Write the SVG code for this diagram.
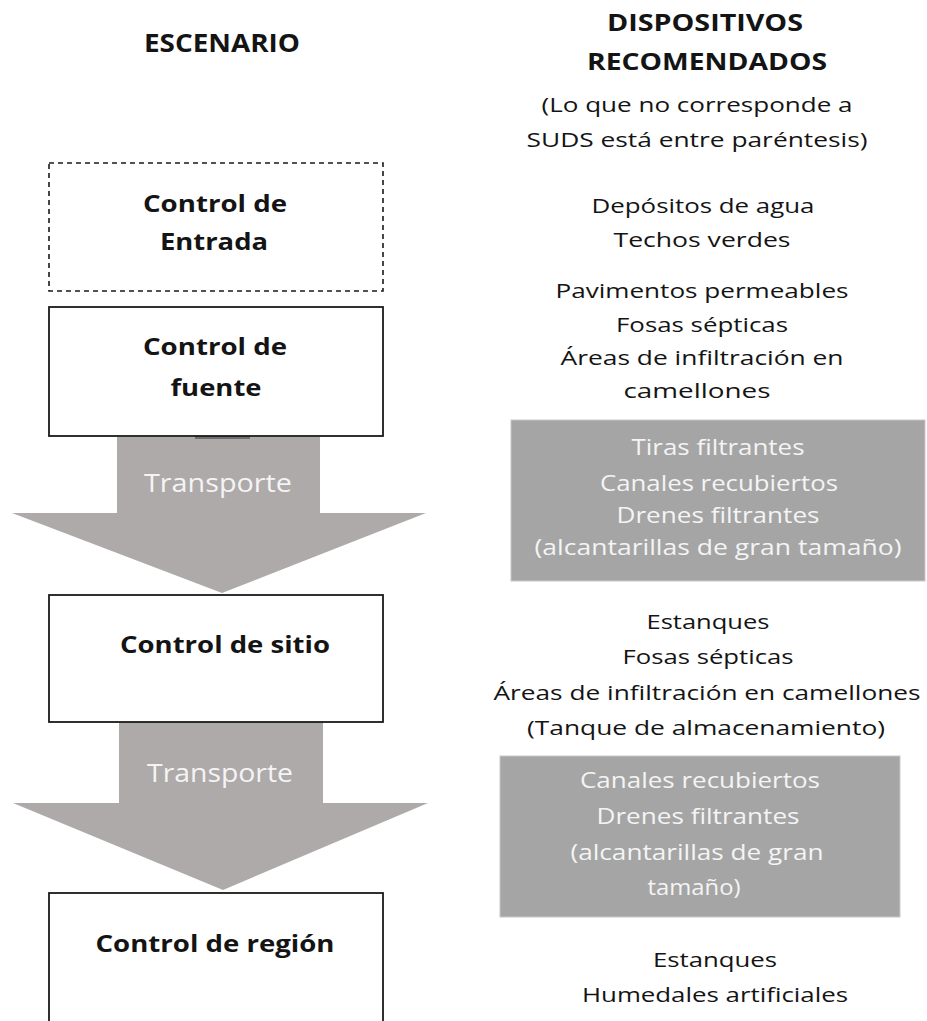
<svg xmlns="http://www.w3.org/2000/svg" width="927" height="1021" viewBox="0 0 927 1021">
<style>
.t{font-family:"Open Sans","Noto Sans","Liberation Sans",sans-serif;fill:#141414;text-anchor:middle}
.h{font-size:23px;font-weight:bold}
.b{font-size:24px;font-weight:bold}
.r{font-size:20px}
.g{font-size:21px;fill:#f4f4f4}
.tr{font-family:"Open Sans","Noto Sans","Liberation Sans",sans-serif;font-size:26px;fill:#f4f4f4;text-anchor:middle}
.box{fill:#fff;stroke:#1a1a1a;stroke-width:1.8}
.dash{fill:#fff;stroke:#1a1a1a;stroke-width:1.6;stroke-dasharray:5 4}
.arrow{fill:#aeaaaa}
.gbox{fill:#a5a5a5;stroke:#c8c8c8;stroke-width:1}
</style>
<rect width="927" height="1021" fill="#fff"/>

<g id="headers">
<text class="t h" x="222" y="52" font-size="25" textLength="156" lengthAdjust="spacingAndGlyphs" style="font-size:25px">ESCENARIO</text>
<text class="t h" x="705" y="31" textLength="196" lengthAdjust="spacingAndGlyphs">DISPOSITIVOS</text>
<text class="t h" x="707" y="70" textLength="240" lengthAdjust="spacingAndGlyphs">RECOMENDADOS</text>
<text class="t r" x="697" y="112" textLength="311" lengthAdjust="spacingAndGlyphs">(Lo que no corresponde a</text>
<text class="t r" x="697" y="147" textLength="341" lengthAdjust="spacingAndGlyphs">SUDS está entre paréntesis)</text>
</g>

<g id="connectors">
<path class="arrow" d="M117,437 H320 V513 H426 L222,593 L12,513 H117 Z"/>
<rect x="195" y="436" width="55" height="3" fill="#6e6e6e"/>
<text class="tr" x="218" y="492" textLength="148" lengthAdjust="spacingAndGlyphs">Transporte</text>
<path class="arrow" d="M119,721 H323 V803 H428 L223,890 L13,803 H119 Z"/>
<text class="tr" x="220" y="782" textLength="146" lengthAdjust="spacingAndGlyphs">Transporte</text>
</g>

<g id="node-entrada">
<rect class="dash" x="49" y="163" width="334" height="128"/>
<text class="t b" x="215" y="212" textLength="144" lengthAdjust="spacingAndGlyphs">Control de</text>
<text class="t b" x="214" y="250" textLength="108" lengthAdjust="spacingAndGlyphs">Entrada</text>
</g>

<g id="node-fuente">
<rect class="box" x="49" y="307" width="334" height="129"/>
<text class="t b" x="215" y="355" textLength="144" lengthAdjust="spacingAndGlyphs">Control de</text>
<text class="t b" x="216" y="396" textLength="91" lengthAdjust="spacingAndGlyphs">fuente</text>
</g>

<g id="node-sitio">
<rect class="box" x="49" y="595" width="334" height="127"/>
<text class="t b" x="225" y="653" textLength="210" lengthAdjust="spacingAndGlyphs">Control de sitio</text>
</g>

<g id="node-region">
<rect class="box" x="49" y="893" width="334" height="140"/>
<text class="t b" x="215" y="952" textLength="239" lengthAdjust="spacingAndGlyphs">Control de región</text>
</g>

<g id="devices-entrada">
<text class="t r" x="703" y="213" textLength="223" lengthAdjust="spacingAndGlyphs">Depósitos de agua</text>
<text class="t r" x="702" y="247" textLength="177" lengthAdjust="spacingAndGlyphs">Techos verdes</text>
</g>

<g id="devices-fuente">
<text class="t r" x="702" y="298" textLength="293" lengthAdjust="spacingAndGlyphs">Pavimentos permeables</text>
<text class="t r" x="702" y="332" textLength="172" lengthAdjust="spacingAndGlyphs">Fosas sépticas</text>
<text class="t r" x="702" y="365" textLength="283" lengthAdjust="spacingAndGlyphs">Áreas de infiltración en</text>
<text class="t r" x="697" y="398" textLength="147" lengthAdjust="spacingAndGlyphs">camellones</text>
</g>

<g id="devices-transporte-1">
<rect class="gbox" x="511" y="420" width="414" height="161"/>
<text class="t g" x="718" y="455" textLength="173" lengthAdjust="spacingAndGlyphs">Tiras filtrantes</text>
<text class="t g" x="719" y="491" textLength="238" lengthAdjust="spacingAndGlyphs">Canales recubiertos</text>
<text class="t g" x="718" y="523" textLength="203" lengthAdjust="spacingAndGlyphs">Drenes filtrantes</text>
<text class="t g" x="718" y="555" textLength="367" lengthAdjust="spacingAndGlyphs">(alcantarillas de gran tamaño)</text>
</g>

<g id="devices-sitio">
<text class="t r" x="708" y="629" textLength="123" lengthAdjust="spacingAndGlyphs">Estanques</text>
<text class="t r" x="708" y="664" textLength="171" lengthAdjust="spacingAndGlyphs">Fosas sépticas</text>
<text class="t r" x="707" y="700" textLength="427" lengthAdjust="spacingAndGlyphs">Áreas de infiltración en camellones</text>
<text class="t r" x="706" y="735" textLength="358" lengthAdjust="spacingAndGlyphs">(Tanque de almacenamiento)</text>
</g>

<g id="devices-transporte-2">
<rect class="gbox" x="500" y="756" width="400" height="161"/>
<text class="t g" x="700" y="788" textLength="240" lengthAdjust="spacingAndGlyphs">Canales recubiertos</text>
<text class="t g" x="698" y="824" textLength="203" lengthAdjust="spacingAndGlyphs">Drenes filtrantes</text>
<text class="t g" x="697" y="860" textLength="253" lengthAdjust="spacingAndGlyphs">(alcantarillas de gran</text>
<text class="t g" x="694" y="895" textLength="93" lengthAdjust="spacingAndGlyphs">tamaño)</text>
</g>

<g id="devices-region">
<text class="t r" x="715" y="967" textLength="124" lengthAdjust="spacingAndGlyphs">Estanques</text>
<text class="t r" x="715" y="1002" textLength="266" lengthAdjust="spacingAndGlyphs">Humedales artificiales</text>
</g>
</svg>
